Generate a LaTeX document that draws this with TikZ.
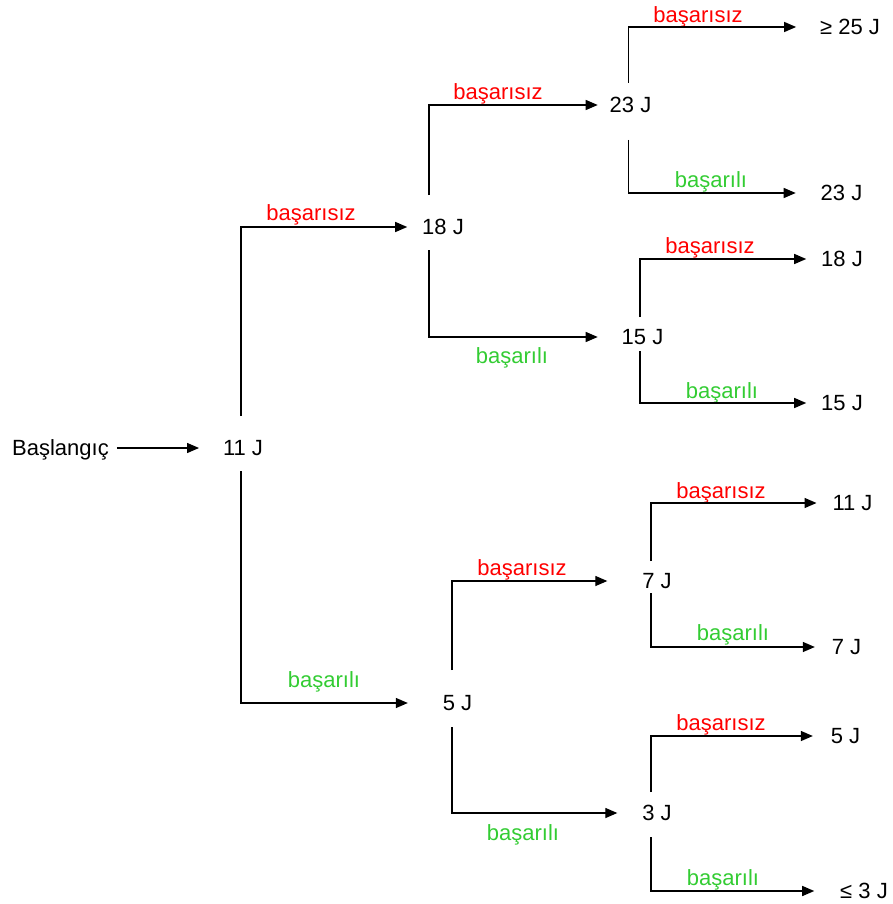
\documentclass[tikz,border=0pt]{standalone}
\usepackage{fontspec}
\setmainfont{Liberation Sans}
\usetikzlibrary{arrows.meta}
\definecolor{failred}{RGB}{255,0,0}
\definecolor{passgreen}{RGB}{51,204,51}
\begin{document}
\begin{tikzpicture}[x=1pt,y=-1pt,
  every node/.style={font=\fontsize{22}{26}\selectfont, inner sep=0pt, outer sep=0pt},
  val/.style={text height=15.75pt, text depth=0pt},
  lab/.style={text height=16pt, text depth=4.5pt},
  fail/.style={lab, text=failred},
  pass/.style={lab, text=passgreen},
  conn/.style={line width=1.3pt, -{Triangle[length=12pt,width=10pt]}}]
\useasboundingbox (0,0) rectangle (893,904);

% energy values
\node[val] (start) at (60.5,448) {Başlangıç};
\node[val] (n11) at (243,448) {11 J};
\node[val] (n18) at (443,227) {18 J};
\node[val] (n5)  at (457.5,703) {5 J};
\node[val] (n23) at (630.5,105) {23 J};
\node[val] (n15) at (642.5,337) {15 J};
\node[val] (n7)  at (657,581) {7 J};
\node[val] (n3)  at (657,813) {3 J};
\node[val] (l25) at (850,27) {≥ 25 J};
\node[val] (l23) at (841.5,193) {23 J};
\node[val] (l18) at (842,259) {18 J};
\node[val] (l15) at (842,403) {15 J};
\node[val] (l11) at (852.5,503) {11 J};
\node[val] (l7)  at (846.5,647) {7 J};
\node[val] (l5)  at (845.5,736) {5 J};
\node[val] (l3)  at (864,891) {≤ 3 J};

% branch labels
\node[fail] (f11) at (311,215) {başarısız};
\node[pass] (p11) at (324,682) {başarılı};
\node[fail] (f18) at (498,94) {başarısız};
\node[pass] (p18) at (512,358) {başarılı};
\node[fail] (f23) at (698,17) {başarısız};
\node[pass] (p23) at (711,182) {başarılı};
\node[fail] (f15) at (710,248) {başarısız};
\node[pass] (p15) at (722,393) {başarılı};
\node[fail] (f5)  at (522,570) {başarısız};
\node[pass] (p5)  at (523,835) {başarılı};
\node[fail] (f7)  at (721,493) {başarısız};
\node[pass] (p7)  at (733,635) {başarılı};
\node[fail] (f3)  at (721,725) {başarısız};
\node[pass] (p3)  at (723,880) {başarılı};

% connectors
\draw[conn, shorten <=8pt, shorten >=24pt] (start.east) -- (n11.west);

\draw[conn, shorten >=15pt] ([xshift=-2pt,yshift=32pt]n11.center) |- (n18.west);
\draw[conn, shorten >=35pt] ([xshift=-2pt,yshift=-23pt]n11.center) |- (n5.west);

\draw[conn, shorten >=12pt] ([xshift=-14pt,yshift=32pt]n18.center) |- (n23.west);
\draw[conn, shorten >=24pt] ([xshift=-14pt,yshift=-23pt]n18.center) |- (n15.west);

\draw[conn, shorten >=35pt] ([xshift=-5.5pt,yshift=33pt]n5.center) |- (n7.west);
\draw[conn, shorten >=25pt] ([xshift=-5.5pt,yshift=-24pt]n5.center) |- (n3.west);

\draw[conn, shorten >=24pt] ([xshift=-2pt,yshift=22pt]n23.center) |- (l25.west);
\draw[conn, shorten >=25pt] ([xshift=-2pt,yshift=-35pt]n23.center) |- (l23.west);

\draw[conn, shorten >=15pt] ([xshift=-2.5pt,yshift=20pt]n15.center) |- (l18.west);
\draw[conn, shorten >=15pt] ([xshift=-2.5pt,yshift=-14pt]n15.center) |- (l15.west);

\draw[conn, shorten >=16pt] ([xshift=-6pt,yshift=20pt]n7.center) |- (l11.west);
\draw[conn, shorten >=17pt] ([xshift=-6pt,yshift=-12pt]n7.center) |- (l7.west);

\draw[conn, shorten >=18pt] ([xshift=-6pt,yshift=21pt]n3.center) |- (l5.west);
\draw[conn, shorten >=26pt] ([xshift=-6pt,yshift=-24pt]n3.center) |- (l3.west);
\end{tikzpicture}
\end{document}
